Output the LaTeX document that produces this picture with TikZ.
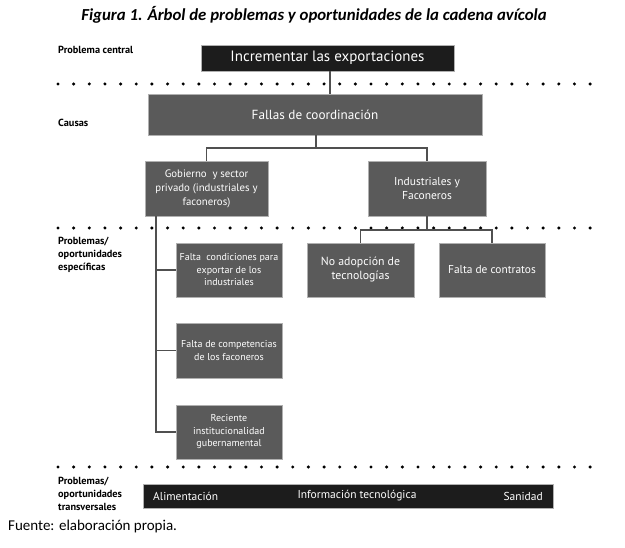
\documentclass[tikz,border=0pt]{standalone}
\usepackage{fontspec}
\setmainfont{Carlito}
\newfontfamily\boxfont{PT Sans}
\definecolor{boxgray}{HTML}{5A5A5A}
\definecolor{boxedge}{HTML}{B0B0B0}
\definecolor{barblack}{HTML}{1C1C1C}
\definecolor{linegray}{HTML}{505050}
\tikzset{
  gbox/.style={draw=boxedge, line width=0.8pt, fill=boxgray, text=white, inner sep=0pt, align=center, font=\boxfont\fontsize{10}{12.5}\selectfont},
  kbox/.style={draw=boxedge, line width=0.8pt, fill=barblack, text=white, inner sep=0pt},
  conn/.style={draw=linegray, line width=1.3pt},
  lab/.style={anchor=west, inner sep=0pt, align=left, font=\boxfont\bfseries\fontsize{10.3}{13}\selectfont},
  bartext/.style={text=white, inner sep=0pt, font=\boxfont\fontsize{11.5}{13}\selectfont},
}
\begin{document}
\begin{tikzpicture}[x=1pt,y=-1pt]
\useasboundingbox (0,0) rectangle (625,548);
% title
\node (title) at (314,15) {\bfseries\itshape\fontsize{16.8}{18}\selectfont Figura 1. Árbol de problemas y oportunidades de la cadena avícola};
% dotted separators
\foreach \yy in {84,228,467}{
  \foreach \i in {0,...,34}{
    \fill (58+15.65*\i,\yy) circle (1.7);
  }
}
% left labels
\node[lab] (l1) at (58,50) {Problema central};
\node[lab] (l2) at (58,123) {Causas};
\node[lab, anchor=north west] (l3) at (58,237) {Problemas/\\oportunidades\\específicas};
\node[lab, anchor=north west] (l4) at (58,477) {Problemas/\\oportunidades\\transversales};
% boxes
\node[kbox, minimum width=253, minimum height=26, font=\boxfont\fontsize{15}{17}\selectfont] (top) at (327.5,58) {Incrementar las exportaciones};
\node[gbox, minimum width=334, minimum height=41, font=\boxfont\fontsize{13.2}{15}\selectfont] (fallas) at (315,114.5) {Fallas de coordinación};
\node[gbox, minimum width=123, minimum height=55, font=\boxfont\fontsize{10.8}{14}\selectfont] (gob) at (206.5,188.5) {Gobierno \ y sector\\privado (industriales y\\faconeros)};
\node[gbox, minimum width=118, minimum height=55, font=\boxfont\fontsize{11.5}{14}\selectfont] (ind) at (427,188.5) {Industriales y\\Faconeros};
\node[gbox, minimum width=106, minimum height=54] (cond) at (229,270) {Falta \ condiciones para\\exportar de los\\industriales};
\node[gbox, minimum width=107, minimum height=54, font=\boxfont\fontsize{11.8}{14}\selectfont] (noad) at (360.5,270) {No adopción de\\tecnologías};
\node[gbox, minimum width=106, minimum height=54, font=\boxfont\fontsize{11.4}{14}\selectfont] (contr) at (492,270) {Falta de contratos};
\node[gbox, minimum width=106, minimum height=55] (comp) at (229,350.5) {Falta de competencias\\de los faconeros};
\node[gbox, minimum width=106, minimum height=54] (rec) at (229,432) {Reciente\\institucionalidad\\gubernamental};
\node[kbox, minimum width=410, minimum height=24] (bar) at (348,496) {};
\node[bartext, anchor=west] (b1) at (153,496) {Alimentación};
\node[bartext] (b2) at (357,496) {Información tecnológica};
\node[bartext, anchor=east] (b3) at (543,496) {Sanidad};
% source
\node[anchor=west, inner sep=0pt, font=\fontsize{15}{17}\selectfont] (src) at (8,527) {Fuente: elaboración propia.};
% connectors
\coordinate (j1) at (316,148);
\coordinate (j2) at (427,230);
\draw[conn] (top.south -| 330,0) -- (fallas.north -| 330,0);
\draw[conn] (fallas.south -| j1) -- (j1);
\draw[conn] (gob.north) |- (j1) -| (ind.north);
\draw[conn] (ind.south) -- (j2);
\draw[conn] (noad.north) |- (j2) -| (contr.north);
\coordinate (v0) at (156,216);
\draw[conn] (gob.south -| v0) -- (v0 |- rec.west) -- (rec.west);
\draw[conn] (v0 |- cond.west) -- (cond.west);
\draw[conn] (v0 |- comp.west) -- (comp.west);
\end{tikzpicture}
\end{document}
